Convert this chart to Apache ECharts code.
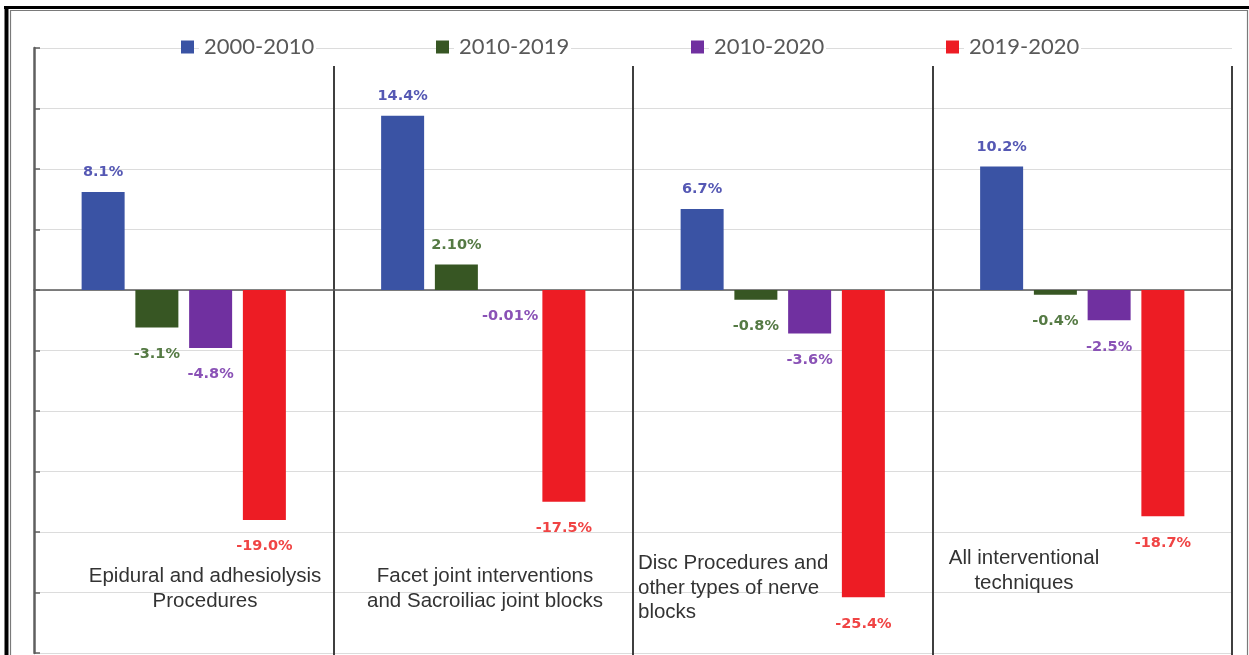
<!DOCTYPE html>
<html>
<head>
<meta charset="utf-8">
<script src="https://cdn.jsdelivr.net/npm/echarts@6.0.0/dist/echarts.min.js"></script>
<style>
  html, body { margin: 0; padding: 0; background: #ffffff; }
  #chart { width: 1249px; height: 655px; }
</style>
</head>
<body>
<div id="chart"></div>
<script>
// Procedure groups (x categories), text broken over lines as set in each box
const categories = [
  'Epidural and adhesiolysis\nProcedures',
  'Facet joint interventions\nand Sacroiliac joint blocks',
  'Disc Procedures and\nother types of nerve\nblocks',
  'All interventional\ntechniques'
];

// Periods shown in the legend
const periods = ['2000-2010', '2010-2019', '2010-2020', '2019-2020'];

// Annual change in %, one array per period
const change2000to2010 = [8.1, 14.4, 6.7, 10.2];
const change2010to2019 = [-3.1, 2.10, -0.8, -0.4];
const change2010to2020 = [-4.8, -0.01, -3.6, -2.5];
const change2019to2020 = [-19.0, -17.5, -25.4, -18.7];

// Decimals printed in each value label
const digits2000to2010 = [1, 1, 1, 1];
const digits2010to2019 = [1, 2, 1, 1];
const digits2010to2020 = [1, 2, 1, 1];
const digits2019to2020 = [1, 1, 1, 1];

// Value axis range and step (%)
const yMin = -30;
const yMax = 20;
const yStep = 5;

const barColors = ['#3a53a4', '#375623', '#7030a0', '#ed1c24'];
const labelColors = ['#5558b4', '#557a44', '#8a52b6', '#f04444'];

const seriesValues = [change2000to2010, change2010to2019, change2010to2020, change2019to2020];
const seriesDigits = [digits2000to2010, digits2010to2019, digits2010to2020, digits2019to2020];

const chart = echarts.init(document.getElementById('chart'), null, { renderer: 'canvas' });

const series = periods.map(function (name, si) {
  return {
    name: name,
    type: 'bar',
    xAxisIndex: 0,
    yAxisIndex: 0,
    barWidth: 43,
    barGap: '25%',
    itemStyle: { color: barColors[si] },
    data: seriesValues[si].map(function (v, ci) {
      const neg = v < 0;
      return {
        value: v,
        label: {
          show: true,
          position: neg ? 'bottom' : 'top',
          distance: neg ? 19 : 12,
          formatter: v.toFixed(seriesDigits[si][ci]) + '%',
          color: labelColors[si],
          fontFamily: 'DejaVu Sans',
          fontWeight: 'bold',
          fontSize: 14.5
        }
      };
    })
  };
});

// Text boxes naming each procedure group
const boxStyle = { fontFamily: 'Liberation Sans', fontSize: 20.5, fill: '#333333', lineHeight: 24.5 };
const textBoxes = [
  { x: 205, y: 589, align: 'center' },
  { x: 485, y: 589, align: 'center' },
  { x: 638, y: 588, align: 'left' },
  { x: 1024, y: 571, align: 'center' }
].map(function (p, i) {
  return {
    type: 'text',
    x: p.x,
    y: p.y,
    z: 10,
    style: Object.assign({
      text: categories[i],
      align: p.align,
      verticalAlign: 'middle'
    }, boxStyle)
  };
});

// Double frame around the figure
const frame = [
  { type: 'line', shape: { x1: 4, y1: 7.5, x2: 1249, y2: 7.5 }, style: { stroke: '#000', lineWidth: 3 } },
  { type: 'line', shape: { x1: 6.5, y1: 6, x2: 6.5, y2: 655 }, style: { stroke: '#000', lineWidth: 4 } },
  { type: 'line', shape: { x1: 10, y1: 10.5, x2: 1248, y2: 10.5 }, style: { stroke: '#7a7a7a', lineWidth: 1.2 } },
  { type: 'line', shape: { x1: 10.5, y1: 10, x2: 10.5, y2: 655 }, style: { stroke: '#7a7a7a', lineWidth: 1.2 } },
  { type: 'line', shape: { x1: 1247.5, y1: 10, x2: 1247.5, y2: 655 }, style: { stroke: '#7a7a7a', lineWidth: 1.2 } }
];

const option = {
  backgroundColor: '#ffffff',
  animation: false,
  legend: {
    data: periods,
    left: 176,
    top: 31,
    icon: 'rect',
    itemWidth: 13,
    itemHeight: 13,
    itemGap: 120,
    selectedMode: false,
    textStyle: {
      fontFamily: 'Lato',
      fontSize: 22,
      color: '#595959',
      backgroundColor: '#ffffff',
      padding: [0, 2, 0, 5],
      width: 110
    }
  },
  grid: [
    { left: 34, right: 17, top: 48, bottom: 2, containLabel: false },
    { left: 34, right: 17, top: 66, bottom: 0, containLabel: false }
  ],
  xAxis: [
    {
      gridIndex: 0,
      type: 'category',
      data: categories,
      axisLine: { show: true, onZero: true, lineStyle: { color: '#595959', width: 1.5 } },
      axisTick: { show: false },
      axisLabel: { show: false },
      splitLine: { show: false }
    },
    {
      gridIndex: 1,
      type: 'category',
      data: categories,
      axisLine: { show: false },
      axisTick: { show: false },
      axisLabel: { show: false },
      splitLine: { show: true, showMinLine: false, lineStyle: { color: '#3f3f3f', width: 2 } }
    }
  ],
  yAxis: [
    {
      gridIndex: 0,
      type: 'value',
      min: yMin,
      max: yMax,
      interval: yStep,
      axisLine: { show: true, lineStyle: { color: '#5f5f5f', width: 2.5 } },
      axisTick: { show: true, inside: true, length: 6, lineStyle: { color: '#5f5f5f', width: 1.5 } },
      axisLabel: { show: false },
      splitLine: { show: true, lineStyle: { color: '#dcdcdc', width: 1.2 } }
    },
    {
      gridIndex: 1,
      type: 'value',
      min: 0,
      max: 1,
      show: false
    }
  ],
  graphic: frame.concat(textBoxes),
  series: series
};

chart.setOption(option);
</script>
</body>
</html>
